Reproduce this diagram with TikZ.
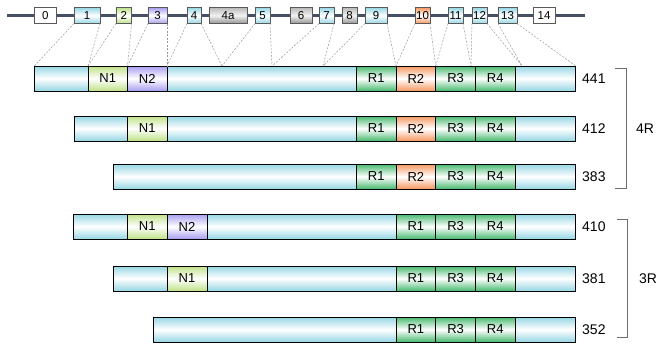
\documentclass[tikz,border=0pt]{standalone}
\usepackage{fontspec}
\setmainfont{Liberation Sans}
\definecolor{cyanC}{RGB}{150,214,228}
\definecolor{nOneC}{RGB}{190,225,135}
\definecolor{nTwoC}{RGB}{168,158,240}
\definecolor{rGreenC}{RGB}{70,185,110}
\definecolor{rOrangeC}{RGB}{245,150,95}
\definecolor{lineC}{RGB}{70,80,100}
\definecolor{brC}{RGB}{110,110,110}
\tikzset{
  segbase/.style={draw=black, line width=0.7pt, inner sep=0pt, outer sep=0pt, minimum height=25pt, anchor=north west, font=\fontsize{13}{15}\selectfont},
  cyanseg/.style={segbase, top color=cyanC, bottom color=cyanC, middle color=white},
  nonefill/.style={segbase, top color=nOneC, bottom color=nOneC, middle color=white},
  ntwofill/.style={segbase, top color=nTwoC, bottom color=nTwoC, middle color=white},
  rgreen/.style={segbase, top color=rGreenC, bottom color=rGreenC, middle color=white},
  rorange/.style={segbase, top color=rOrangeC, bottom color=rOrangeC, middle color=white},
  exon/.style={draw=black!65, line width=0.6pt, inner sep=0pt, outer sep=0pt, minimum height=16pt, font=\fontsize{11.5}{13}\selectfont},
  exwhite/.style={exon, fill=white},
  excyan/.style={exon, top color=cyanC, bottom color=cyanC, middle color=white},
  exgreen/.style={exon, top color=nOneC, bottom color=nOneC, middle color=white},
  expurple/.style={exon, top color=nTwoC, bottom color=nTwoC, middle color=white},
  exorange/.style={exon, top color=rOrangeC, bottom color=rOrangeC, middle color=white},
  exgray/.style={exon, top color=gray!55, bottom color=gray!85, middle color=gray!10},
  conn/.style={draw=gray!80, line width=0.5pt, dash pattern=on 2pt off 1.5pt},
  lenlabel/.style={anchor=west, inner sep=0pt, font=\fontsize{14}{16}\selectfont},
  brack/.style={draw=brC, line width=0.8pt},
}
\newcommand{\segnode}[6]{\node[#5, minimum width={#3pt-#2pt}] (#1) at (#2,#4) {#6};}
\begin{document}
\begin{tikzpicture}[x=1pt,y=-1pt]
\useasboundingbox (0,0) rectangle (656,348);
% gene line
\coordinate (lineS) at (7,15.5);
\coordinate (lineE) at (585,15.5);
\draw[lineC, line width=3pt] (lineS) -- (lineE);
% exons
\node[exwhite, minimum width=21.7pt] (e0) at (45.2,15.5) {0};
\node[excyan, minimum width=26pt] (e1) at (87,15.5) {1};
\node[exgreen, minimum width=15.7pt] (e2) at (123.8,15.5) {2};
\node[expurple, minimum width=19pt] (e3) at (157.5,15.5) {3};
\node[excyan, minimum width=14pt] (e4) at (194,15.5) {4};
\node[exgray, minimum width=38pt] (e4a) at (228,15.5) {4a};
\node[excyan, minimum width=15pt] (e5) at (262.5,15.5) {5};
\node[exgray, minimum width=22pt] (e6) at (301,15.5) {6};
\node[excyan, minimum width=15pt] (e7) at (326.5,15.5) {7};
\node[exgray, minimum width=15pt] (e8) at (349.5,15.5) {8};
\node[excyan, minimum width=22pt] (e9) at (376,15.5) {9};
\node[exorange, minimum width=15pt] (e10) at (422.5,15.5) {10};
\node[excyan, minimum width=15pt] (e11) at (455.5,15.5) {11};
\node[excyan, minimum width=15pt] (e12) at (479.5,15.5) {12};
\node[excyan, minimum width=19pt] (e13) at (507.5,15.5) {13};
\node[exwhite, minimum width=22pt] (e14) at (544,15.5) {14};
% bar 441
\segnode{aC1}{34.3}{88}{66}{cyanseg}{}
\segnode{aN1}{88}{127.5}{66}{nonefill}{N1}
\segnode{aN2}{127.5}{167}{66}{ntwofill}{N2}
\segnode{aC2}{167}{356.5}{66}{cyanseg}{}
\segnode{aR1}{356.5}{396}{66}{rgreen}{R1}
\segnode{aR2}{396}{435.7}{66}{rorange}{R2}
\segnode{aR3}{435.7}{475.5}{66}{rgreen}{R3}
\segnode{aR4}{475.5}{515}{66}{rgreen}{R4}
\segnode{aC3}{515}{575.7}{66}{cyanseg}{}
\node[lenlabel] (aL) at (582,78.5) {441};
% bar 412
\segnode{bC1}{74}{127.5}{116}{cyanseg}{}
\segnode{bN1}{127.5}{167}{116}{nonefill}{N1}
\segnode{bC2}{167}{356.5}{116}{cyanseg}{}
\segnode{bR1}{356.5}{396}{116}{rgreen}{R1}
\segnode{bR2}{396}{435.7}{116}{rorange}{R2}
\segnode{bR3}{435.7}{475.5}{116}{rgreen}{R3}
\segnode{bR4}{475.5}{515}{116}{rgreen}{R4}
\segnode{bC3}{515}{575.7}{116}{cyanseg}{}
\node[lenlabel] (bL) at (582,128.5) {412};
% bar 383
\segnode{cC1}{113}{356.5}{164}{cyanseg}{}
\segnode{cR1}{356.5}{396}{164}{rgreen}{R1}
\segnode{cR2}{396}{435.7}{164}{rorange}{R2}
\segnode{cR3}{435.7}{475.5}{164}{rgreen}{R3}
\segnode{cR4}{475.5}{515}{164}{rgreen}{R4}
\segnode{cC3}{515}{575.7}{164}{cyanseg}{}
\node[lenlabel] (cL) at (582,176.5) {383};
% bar 410
\segnode{dC1}{73.5}{127.5}{214}{cyanseg}{}
\segnode{dN1}{127.5}{167}{214}{nonefill}{N1}
\segnode{dN2}{167}{207}{214}{ntwofill}{N2}
\segnode{dC2}{207}{396}{214}{cyanseg}{}
\segnode{dR1}{396}{435.7}{214}{rgreen}{R1}
\segnode{dR3}{435.7}{475.5}{214}{rgreen}{R3}
\segnode{dR4}{475.5}{515}{214}{rgreen}{R4}
\segnode{dC3}{515}{575.7}{214}{cyanseg}{}
\node[lenlabel] (dL) at (582,226.5) {410};
% bar 381
\segnode{fC1}{113}{167}{266}{cyanseg}{}
\segnode{fN1}{167}{207}{266}{nonefill}{N1}
\segnode{fC2}{207}{396}{266}{cyanseg}{}
\segnode{fR1}{396}{435.7}{266}{rgreen}{R1}
\segnode{fR3}{435.7}{475.5}{266}{rgreen}{R3}
\segnode{fR4}{475.5}{515}{266}{rgreen}{R4}
\segnode{fC3}{515}{575.7}{266}{cyanseg}{}
\node[lenlabel] (fL) at (582,278.5) {381};
% bar 352
\segnode{gC1}{153}{396}{317}{cyanseg}{}
\segnode{gR1}{396}{435.7}{317}{rgreen}{R1}
\segnode{gR3}{435.7}{475.5}{317}{rgreen}{R3}
\segnode{gR4}{475.5}{515}{317}{rgreen}{R4}
\segnode{gC3}{515}{575.7}{317}{cyanseg}{}
\node[lenlabel] (gL) at (582,329.5) {352};
% connector meeting points
\coordinate (p1) at (222,66);
\coordinate (p2) at (272,66);
\coordinate (p3) at (323,66);
\coordinate (p4) at (471,66);
\coordinate (p5) at (522,66);
% dashed exon connectors
\draw[conn] (e1.south west) -- (aC1.north west);
\draw[conn] (e1.south east) -- (aN1.north west);
\draw[conn] (e2.south west) -- (aN1.north west);
\draw[conn] (e2.south east) -- (aN2.north west);
\draw[conn] (e3.south west) -- (aN2.north west);
\draw[conn] (e3.south east) -- (aC2.north west);
\draw[conn] (e4.south west) -- (aC2.north west);
\draw[conn] (e4.south east) -- (p1);
\draw[conn] (e5.south west) -- (p1);
\draw[conn] (e5.south east) -- (p2);
\draw[conn] (e7.south west) -- (p2);
\draw[conn] (e7.south east) -- (p3);
\draw[conn] (e9.south west) -- (p3);
\draw[conn] (e9.south east) -- (aR2.north west);
\draw[conn] (e10.south west) -- (aR2.north west);
\draw[conn] (e10.south east) -- (aR3.north west);
\draw[conn] (e11.south west) -- (aR3.north west);
\draw[conn] (e11.south east) -- (p4);
\draw[conn] (e12.south west) -- (p4);
\draw[conn] (e12.south east) -- (p5);
\draw[conn] (e13.south west) -- (p5);
\draw[conn] (e13.south east) -- (aC3.north east);
% brackets
\coordinate (b4t) at (615,68);
\coordinate (b4b) at (615,188);
\draw[brack] (b4t) -- ++(11,0) |- (b4b);
\node[font=\fontsize{14}{16}\selectfont, anchor=west, inner sep=0pt] (r4) at (636,129) {4R};
\coordinate (b3t) at (617,219);
\coordinate (b3b) at (617,337);
\draw[brack] (b3t) -- ++(10,0) |- (b3b);
\node[font=\fontsize{14}{16}\selectfont, anchor=west, inner sep=0pt] (r3) at (639,279) {3R};
\end{tikzpicture}
\end{document}
